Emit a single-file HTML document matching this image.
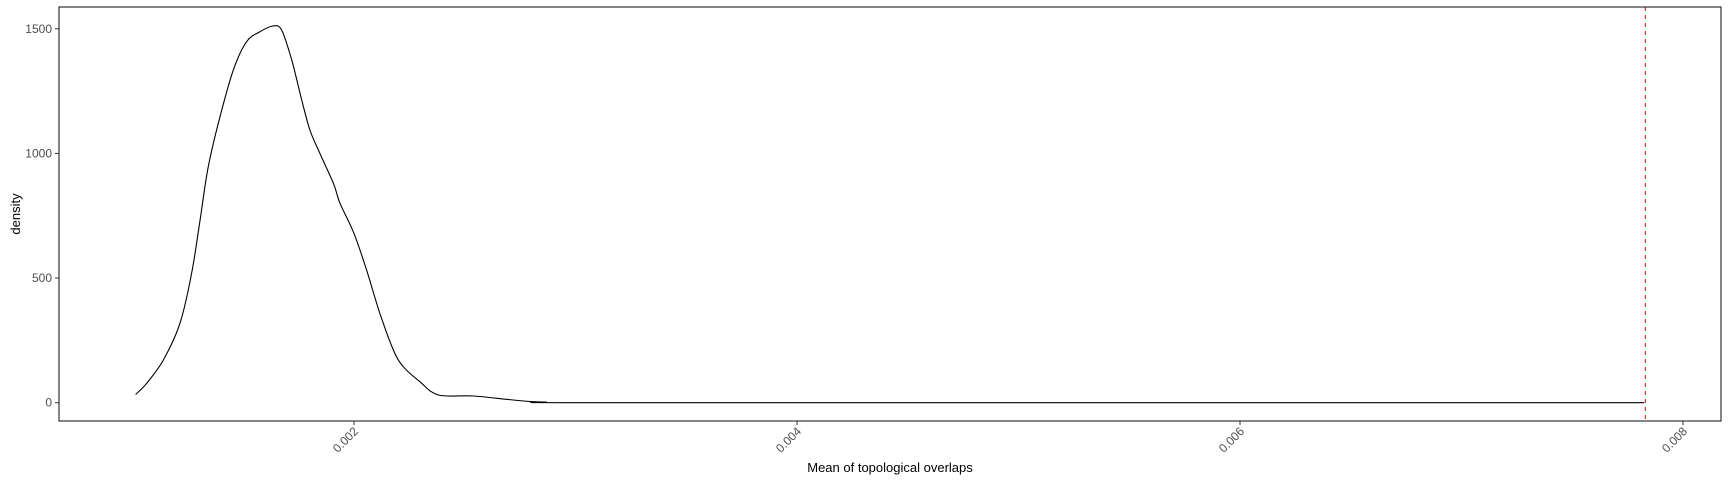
<!DOCTYPE html>
<html><head><meta charset="utf-8"><style>
body{margin:0;background:#fff;}
svg{display:block;font-family:"Liberation Sans",Arial,sans-serif;}
</style></head><body>
<svg id="chart" width="1728" height="480" viewBox="0 0 1728 480" xmlns="http://www.w3.org/2000/svg"></svg>
<script>
const xValues=[0.001014,0.001064,0.001139,0.001214,0.001267,0.001305,0.001342,0.001395,0.001455,0.001515,0.001576,0.001633,0.001673,0.001719,0.001764,0.001801,0.001846,0.001907,0.001937,0.002,0.002057,0.002117,0.002178,0.002223,0.002298,0.002381,0.002539,0.002719,0.002855,0.003291,0.007825];
const densityValues=[33,78,171,318,519,733,947,1147,1334,1448,1488,1511,1495,1374,1214,1094,1000,880,800,679,532,358,211,144,84,31,27,11,3,0,0];
const xTicks=[0.002,0.004,0.006,0.008];
const xTickLabels=["0.002","0.004","0.006","0.008"];
const yTicks=[0,500,1000,1500];
const yTickLabels=["0","500","1000","1500"];
const refLine=[0.00783];

const svg=document.getElementById('chart');
const NS='http://www.w3.org/2000/svg';
const L=59,R=1721,T=7,B=421;
function xs(v){return 354+(v-0.002)*221500;}
function ys(v){return 402.7-v*0.2493;}
function mk(tag,attrs){const e=document.createElementNS(NS,tag);for(const k in attrs)e.setAttribute(k,attrs[k]);svg.appendChild(e);return e;}

const pts=xValues.map((v,i)=>[xs(v),ys(densityValues[i])]);
let d='M'+pts[0][0].toFixed(1)+','+pts[0][1].toFixed(1);
for(let i=0;i<pts.length-1;i++){
  const p0=pts[Math.max(0,i-1)],p1=pts[i],p2=pts[i+1],p3=pts[Math.min(pts.length-1,i+2)];
  const t=0.5/3;
  const c1=[p1[0]+(p2[0]-p0[0])*t,p1[1]+(p2[1]-p0[1])*t];
  const c2=[p2[0]-(p3[0]-p1[0])*t,p2[1]-(p3[1]-p1[1])*t];
  c1[1]=Math.min(c1[1],ys(0));c2[1]=Math.min(c2[1],ys(0));
  d+='C'+c1[0].toFixed(1)+','+c1[1].toFixed(1)+' '+c2[0].toFixed(1)+','+c2[1].toFixed(1)+' '+p2[0].toFixed(1)+','+p2[1].toFixed(1);
}
const line=mk('path',{d:d,fill:'none',stroke:'#000','stroke-width':1.1});



refLine.forEach(v=>{
  const l=mk('line',{x1:xs(v),x2:xs(v),y1:T,y2:B,stroke:'#e41a1c','stroke-width':1.1,'stroke-dasharray':'4,4'});
  
  
});

const frame=mk('rect',{x:L,y:T,width:R-L,height:B-T,fill:'none',stroke:'#333','stroke-width':1.2});



yTicks.forEach((v,i)=>{
  const t=mk('line',{x1:L-4,x2:L,y1:ys(v),y2:ys(v),stroke:'#333','stroke-width':1});
  
  
  const tx=mk('text',{x:L-7,y:ys(v)+4,'text-anchor':'end','font-size':12,fill:'#4d4d4d'});
  tx.textContent=yTickLabels[i];
  
  
});
xTicks.forEach((v,i)=>{
  const x=xs(v);
  const t=mk('line',{x1:x,x2:x,y1:B,y2:B+4,stroke:'#333','stroke-width':1});
  
  
  const tx=mk('text',{x:x+5,y:B+11,'text-anchor':'end','font-size':12,fill:'#4d4d4d',transform:'rotate(-45 '+(x+5)+' '+(B+11)+')'});
  tx.textContent=xTickLabels[i];
  
  
});
const xt=mk('text',{x:(L+R)/2,y:472,'text-anchor':'middle','font-size':13,fill:'#000'});
xt.textContent='Mean of topological overlaps';


const yt=mk('text',{x:20,y:(T+B)/2,'text-anchor':'middle','font-size':13,fill:'#000',transform:'rotate(-90 20 '+((T+B)/2)+')'});
yt.textContent='density';


</script>
</body></html>
